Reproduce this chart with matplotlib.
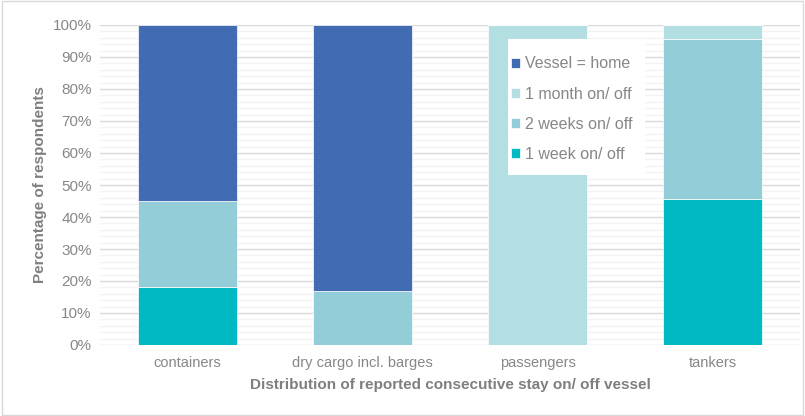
import matplotlib
matplotlib.use('Agg')
import matplotlib.pyplot as plt
import numpy as np
from matplotlib.ticker import MultipleLocator, PercentFormatter

categories = ['containers', 'dry cargo incl. barges', 'passengers', 'tankers']
one_week = [18, 0, 0, 45.5]
two_weeks = [27, 17, 0, 50]
one_month = [0, 0, 100, 4.5]
vessel_home = [55, 83, 0, 0]

plt.rcParams['font.family'] = ['Liberation Sans Narrow', 'Liberation Sans', 'DejaVu Sans']

fig = plt.figure(figsize=(8.05, 4.16), dpi=100)
ax = fig.add_axes([100 / 805, 1 - 345 / 416, 700 / 805, 320 / 416])

x = np.arange(len(categories))
w = 0.565
series = [
    ('1 week on/ off', one_week, '#00B9C2'),
    ('2 weeks on/ off', two_weeks, '#93CDD8'),
    ('1 month on/ off', one_month, '#B4DFE2'),
    ('Vessel = home', vessel_home, '#416BB3'),
]
bottom = np.zeros(len(categories))
handles = []
for name, vals, col in series:
    b = ax.bar(x, vals, w, bottom=bottom, color=col, label=name, zorder=3,
               edgecolor='white', linewidth=0.5)
    handles.append(b)
    bottom += np.array(vals)

ax.set_xlim(-0.5, len(categories) - 0.5)
ax.set_ylim(0, 100)
ax.yaxis.set_major_locator(MultipleLocator(10))
ax.yaxis.set_minor_locator(MultipleLocator(2))
ax.yaxis.set_major_formatter(PercentFormatter(decimals=0))
ax.grid(axis='y', which='major', color='#D9D9D9', linewidth=1, zorder=0)
ax.grid(axis='y', which='minor', color='#F2F2F2', linewidth=1, zorder=0)
for s in ax.spines.values():
    s.set_visible(False)
ax.tick_params(axis='both', which='both', length=0, colors='#878787', labelsize=11)
ax.tick_params(axis='x', labelsize=10.5, pad=8)
ax.tick_params(axis='y', pad=6)
ax.set_xticks(x)
ax.set_xticklabels(categories)

ax.set_ylabel('Percentage of respondents', color='#7F7F7F', fontsize=11, fontweight='bold', labelpad=4)
ax.set_xlabel('Distribution of reported consecutive stay on/ off vessel', color='#7F7F7F',
              fontsize=11, fontweight='bold', labelpad=6)

# white box behind the legend
ax.add_patch(plt.Rectangle((0.583, 0.531), 0.196, 0.425, transform=ax.transAxes,
                           facecolor='white', edgecolor='none', zorder=4))
leg = ax.legend(handles[::-1], [h.get_label() for h in handles[::-1]],
                loc='upper left', bbox_to_anchor=(0.587, 0.902), frameon=False,
                fontsize=11.5, labelcolor='#878787', handlelength=0.6, handleheight=0.6,
                handletextpad=0.3, labelspacing=0.95, borderpad=0.0, borderaxespad=0.0)
leg.set_zorder(5)

fig.patches.append(plt.Rectangle((0.003, 0.003), 0.994, 0.994, transform=fig.transFigure,
                                 fill=False, edgecolor='#D9D9D9', linewidth=1))

fig.savefig('out.png', dpi=100)
